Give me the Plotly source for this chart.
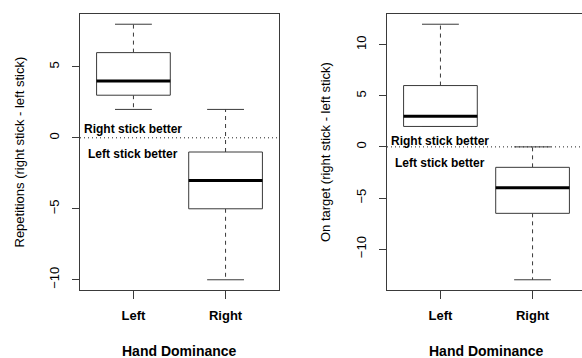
import plotly.graph_objects as go

# ---- data (five-number summaries) ----
groups = ["Left", "Right"]
rep_min = [2, -10]
rep_q1 = [3, -5]
rep_med = [4, -3]
rep_q3 = [6, -1]
rep_max = [8, 2]

tgt_min = [2, -13]
tgt_q1 = [2, -6.5]
tgt_med = [3, -4]
tgt_q3 = [6, -2]
tgt_max = [12, 0]

y_titles = ["Repetitions (right stick - left stick)", "On target (right stick - left stick)"]
x_title = "Hand Dominance"
note_above = "Right stick better"
note_below = "Left stick better"

W, H = 582, 358
FONT = "Liberation Sans, Arial, sans-serif"
LINE = "#3a3a3a"

fig = go.Figure()

panels = [
    (rep_min, rep_q1, rep_med, rep_q3, rep_max, "x", "y", (0.65, -1.15)),
    (tgt_min, tgt_q1, tgt_med, tgt_q3, tgt_max, "x2", "y2", (0.6, -1.55)),
]

for mins, q1s, meds, q3s, maxs, xa, ya, notes in panels:
    for i, g in enumerate(groups):
        c = i + 1
        hw = 0.4
        cw = 0.2
        # whiskers (dashed)
        fig.add_trace(go.Scatter(
            x=[c, c, None, c, c], y=[q3s[i], maxs[i], None, q1s[i], mins[i]],
            mode="lines", line=dict(color=LINE, width=1, dash="4px,4px"),
            xaxis=xa, yaxis=ya, hoverinfo="skip", showlegend=False))
        # staples
        fig.add_trace(go.Scatter(
            x=[c - cw, c + cw, None, c - cw, c + cw],
            y=[maxs[i], maxs[i], None, mins[i], mins[i]],
            mode="lines", line=dict(color=LINE, width=1),
            xaxis=xa, yaxis=ya, hoverinfo="skip", showlegend=False))
        # box
        fig.add_trace(go.Scatter(
            x=[c - hw, c + hw, c + hw, c - hw, c - hw],
            y=[q1s[i], q1s[i], q3s[i], q3s[i], q1s[i]],
            mode="lines", fill="toself", fillcolor="white",
            line=dict(color=LINE, width=1),
            xaxis=xa, yaxis=ya, hoverinfo="skip", showlegend=False))
        # median
        fig.add_trace(go.Scatter(
            x=[c - hw, c + hw], y=[meds[i], meds[i]],
            mode="lines", line=dict(color="black", width=3),
            xaxis=xa, yaxis=ya, hoverinfo="skip", showlegend=False))
    # dotted zero reference line
    fig.add_shape(type="line", xref=f"{xa} domain", yref=ya, x0=0, x1=1, y0=0, y1=0,
                  line=dict(color="#222", width=1, dash="1px,3px"), layer="below")
    # notes
    fig.add_annotation(x=1, y=notes[0], xref=xa, yref=ya, text=note_above, showarrow=False,
                       font=dict(family=FONT, size=12, color="black", weight="bold"),
                       xanchor="center", yanchor="middle")
    fig.add_annotation(x=1, y=notes[1], xref=xa, yref=ya, text=note_below, showarrow=False,
                       font=dict(family=FONT, size=12, color="black", weight="bold"),
                       xanchor="center", yanchor="middle")


def yrange(mins, maxs):
    lo, hi = min(mins), max(maxs)
    pad = 0.04 * (hi - lo)
    return [lo - pad, hi + pad]


px_per_unit = 199 / 2.16
y_dom = [1 - 290 / H, 1 - 14 / H]

common_x = dict(
    tickmode="array", tickvals=[1, 2], ticktext=groups,
    ticks="outside", ticklen=8, tickcolor=LINE, tickwidth=1, ticklabelstandoff=5,
    showline=True, linecolor=LINE, linewidth=1, showgrid=False, zeroline=False,
    tickfont=dict(family=FONT, size=13, color="black", weight="bold"),
    fixedrange=True,
)
common_y = dict(
    tickmode="array", tickvals=[-10, -5, 0, 5, 10], tickangle=-90,
    ticks="outside", ticklen=7, tickcolor=LINE, tickwidth=1, ticklabelstandoff=8,
    showline=True, linecolor=LINE, linewidth=1, showgrid=False, zeroline=False,
    tickfont=dict(family=FONT, size=13, color="black"),
    fixedrange=True,
)

fig.update_layout(
    width=W, height=H,
    margin=dict(l=0, r=0, t=0, b=0),
    paper_bgcolor="white", plot_bgcolor="white",
    showlegend=False, hovermode=False,
    xaxis=dict(domain=[80 / W, 279 / W], range=[0.42, 2.58], mirror=True, anchor="y", **common_x),
    yaxis=dict(domain=y_dom, range=yrange(rep_min, rep_max), mirror=True, anchor="x", **common_y),
    xaxis2=dict(domain=[387 / W, 1], range=[0.42, 0.42 + 195 / px_per_unit], mirror=True,
                anchor="y2", **common_x),
    yaxis2=dict(domain=y_dom, range=yrange(tgt_min, tgt_max), mirror=False, anchor="x2", **common_y),
)

# axis titles
for cx, t in zip([18.5, 325], y_titles):
    fig.add_annotation(x=cx / W, y=1 - 152 / H, xref="paper", yref="paper", text=t,
                       textangle=-90, showarrow=False, xanchor="center", yanchor="middle",
                       font=dict(family=FONT, size=13, color="black"))
for cx in [179.5, 486.5]:
    fig.add_annotation(x=cx / W, y=1 - 351 / H, xref="paper", yref="paper", text=x_title,
                       showarrow=False, xanchor="center", yanchor="middle",
                       font=dict(family=FONT, size=14, color="black", weight="bold"))

fig.write_html("out.html")
